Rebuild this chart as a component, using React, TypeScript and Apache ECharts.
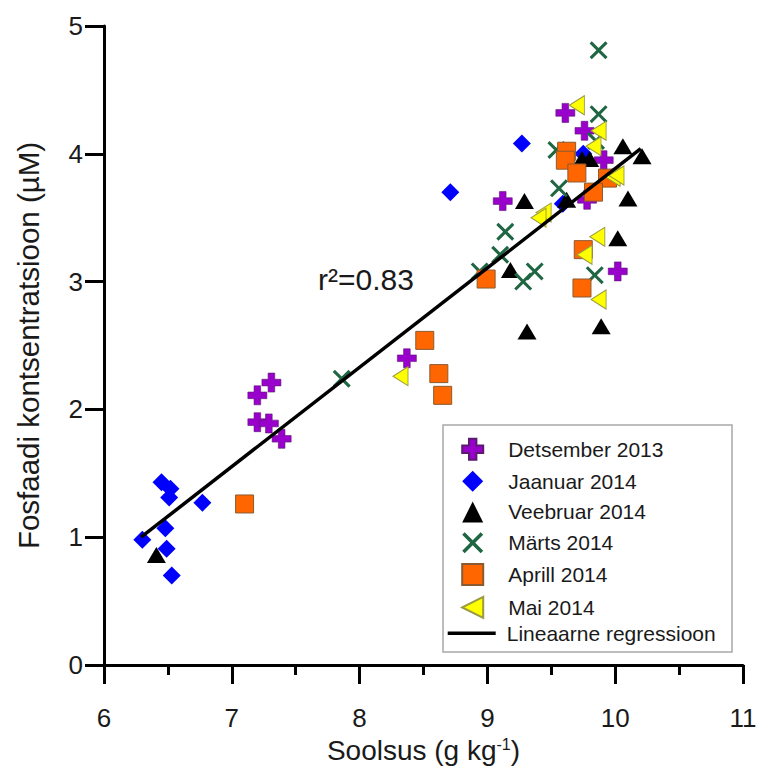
import React, { useEffect, useRef } from 'react';
import * as echarts from 'echarts';

// ---- data ----
const decX = [9.61, 9.76, 9.91, 9.12, 9.78, 10.02, 8.37, 7.31, 7.2, 7.2, 7.29, 7.39];
const decY = [4.32, 4.18, 3.95, 3.63, 3.64, 3.08, 2.4, 2.21, 2.11, 1.9, 1.89, 1.77];

const janX = [9.27, 9.75, 8.71, 9.59, 6.45, 6.52, 6.51, 6.77, 6.48, 6.3, 6.49, 6.53];
const janY = [4.08, 4.0, 3.7, 3.61, 1.43, 1.38, 1.31, 1.27, 1.07, 0.98, 0.91, 0.7];

const febX = [10.06, 10.21, 9.74, 9.8, 10.1, 9.29, 9.62, 10.02, 9.18, 9.31, 9.89, 6.41];
const febY = [4.06, 3.98, 3.96, 3.96, 3.65, 3.63, 3.64, 3.34, 3.09, 2.61, 2.65, 0.86];

const marX = [9.87, 9.87, 9.85, 9.54, 9.56, 9.14, 9.1, 8.94, 9.28, 9.37, 9.84, 7.86];
const marY = [4.81, 4.31, 4.1, 4.03, 3.73, 3.39, 3.21, 3.08, 3.0, 3.08, 3.05, 2.24];

const aprX = [9.62, 9.61, 9.7, 9.94, 9.83, 9.75, 9.74, 8.99, 8.51, 8.62, 8.65, 7.1];
const aprY = [4.02, 3.95, 3.85, 3.81, 3.7, 3.25, 2.95, 3.02, 2.54, 2.28, 2.11, 1.26];

const maiX = [9.7, 9.87, 9.83, 9.98, 10.01, 9.44, 9.4, 9.86, 9.76, 9.87, 8.32];
const maiY = [4.38, 4.18, 4.06, 3.82, 3.83, 3.54, 3.5, 3.35, 3.21, 2.86, 2.26];

const regX = [6.29, 10.2];
const regY = [1.0, 4.04];

const scatterNames = [
  'Detsember 2013',
  'Jaanuar 2014',
  'Veebruar 2014',
  'Märts 2014',
  'Aprill 2014',
  'Mai 2014',
];
const lineName = 'Lineaarne regressioon';

const xTicks = { min: 6, max: 11, step: 1 };
const yTicks = { min: 0, max: 5, step: 1 };

const r2Text = 'r²=0.83';
const xTitle = 'Soolsus (g kg{sup|-1})';
const yTitle = 'Fosfaadi kontsentratsioon (µM)';

const FONT = '"Liberation Sans", Arial, Helvetica, sans-serif';
const TXT = '#1a1a1a';

const CROSS = 'path://M3.25,0H6.75V3.25H10V6.75H6.75V10H3.25V6.75H0V3.25H3.25Z';
const XMARK =
  'path://M0,1.2L1.2,0L5,3.8L8.8,0L10,1.2L6.2,5L10,8.8L8.8,10L5,6.2L1.2,10L0,8.8L3.8,5Z';
const LEFTTRI = 'path://M0,5L10,0L10,10Z';

const zip = (xs: number[], ys: number[]) => xs.map((x, i) => [x, ys[i]]);

export default function App() {
  const ref = useRef<HTMLDivElement>(null);

  useEffect(() => {
    if (!ref.current) return;
    const chart = echarts.init(ref.current, null, { renderer: 'svg' });

    const axisCommon = {
      type: 'value',
      axisLine: { show: true, onZero: false, lineStyle: { color: '#000', width: 3 } },
      axisTick: { show: true, inside: false, length: 19, lineStyle: { color: '#000', width: 3 } },
      splitLine: { show: false },
    };

    const legendText = {
      fontSize: 21,
      color: TXT,
      fontFamily: FONT,
      lineHeight: 21,
    };
    const rowPitch = 30.83;
    const legendTop = 437.8;

    const option: any = {
      animation: false,
      backgroundColor: '#ffffff',
      textStyle: { fontFamily: FONT },
      grid: { left: 104, top: 26, width: 639, height: 639, containLabel: false },
      xAxis: {
        ...axisCommon,
        min: xTicks.min,
        max: xTicks.max,
        interval: xTicks.step,
        minorTick: { show: true, splitNumber: 2, length: 10, lineStyle: { color: '#000', width: 3 } },
        axisLabel: { fontSize: 26, margin: 40, color: TXT, fontFamily: FONT },
        name: xTitle,
        nameLocation: 'middle',
        nameGap: 71,
        nameTextStyle: {
          fontSize: 28,
          color: TXT,
          fontFamily: FONT,
          rich: { sup: { fontSize: 16, verticalAlign: 'top', color: TXT, fontFamily: FONT } },
        },
      },
      yAxis: {
        ...axisCommon,
        min: yTicks.min,
        max: yTicks.max,
        interval: yTicks.step,
        axisLabel: { fontSize: 26, margin: 21, color: TXT, fontFamily: FONT },
        name: yTitle,
        nameLocation: 'middle',
        nameGap: 61,
        nameTextStyle: { fontSize: 29.5, color: TXT, fontFamily: FONT },
      },
      legend: [
        {
          orient: 'vertical',
          left: 461.2,
          top: legendTop,
          padding: 0,
          itemWidth: 21,
          itemHeight: 21,
          itemGap: rowPitch - 21,
          selectedMode: false,
          data: scatterNames,
          textStyle: { ...legendText, padding: [0, 0, 0, 20] },
          z: 10,
        },
        {
          orient: 'vertical',
          left: 447.7,
          top: legendTop + 6 * rowPitch,
          padding: 0,
          itemWidth: 48,
          itemHeight: 3.5,
          selectedMode: false,
          data: [{ name: lineName, icon: 'rect' }],
          textStyle: { ...legendText, padding: [0, 0, 0, 6] },
          z: 10,
        },
      ],
      graphic: [
        {
          type: 'rect',
          shape: { x: 443, y: 425, width: 289, height: 227 },
          style: { fill: '#fff', stroke: '#a8a8a8', lineWidth: 1.5 },
          z: 1,
        },
        {
          type: 'text',
          style: {
            x: 318,
            y: 279.5,
            text: r2Text,
            fontSize: 30,
            fontFamily: FONT,
            fill: TXT,
            align: 'left',
            verticalAlign: 'middle',
          },
          z: 10,
        },
      ],
      series: [
        {
          type: 'scatter',
          name: scatterNames[0],
          data: zip(decX, decY),
          symbol: CROSS,
          symbolSize: 19,
          itemStyle: { color: '#9900cc', borderColor: '#5a1a70', borderWidth: 0.6, opacity: 1 },
        },
        {
          type: 'scatter',
          name: scatterNames[1],
          data: zip(janX, janY),
          symbol: 'diamond',
          symbolSize: 18,
          itemStyle: { color: '#0000ff', opacity: 1 },
        },
        {
          type: 'scatter',
          name: scatterNames[2],
          data: zip(febX, febY),
          symbol: 'triangle',
          symbolSize: [19, 16],
          itemStyle: { color: '#000000', opacity: 1 },
        },
        {
          type: 'scatter',
          name: scatterNames[3],
          data: zip(marX, marY),
          symbol: XMARK,
          symbolSize: 18,
          itemStyle: { color: '#1f6643', opacity: 1 },
        },
        {
          type: 'scatter',
          name: scatterNames[4],
          data: zip(aprX, aprY),
          symbol: 'rect',
          symbolSize: 18,
          itemStyle: { color: '#ff6600', borderColor: '#8a5a30', borderWidth: 1, opacity: 1 },
        },
        {
          type: 'scatter',
          name: scatterNames[5],
          data: zip(maiX, maiY),
          symbol: LEFTTRI,
          symbolSize: [15, 19],
          itemStyle: { color: '#ffff00', borderColor: '#9a9a40', borderWidth: 1, opacity: 1 },
        },
        {
          type: 'line',
          name: lineName,
          data: zip(regX, regY),
          symbol: 'none',
          lineStyle: { color: '#000', width: 3.5 },
          itemStyle: { color: '#000' },
          z: 5,
        },
      ],
    };

    chart.setOption(option);
    return () => chart.dispose();
  }, []);

  return (
    <div
      ref={ref}
      style={{ position: 'fixed', left: 0, top: 0, width: 761, height: 772, background: '#fff' }}
    />
  );
}
